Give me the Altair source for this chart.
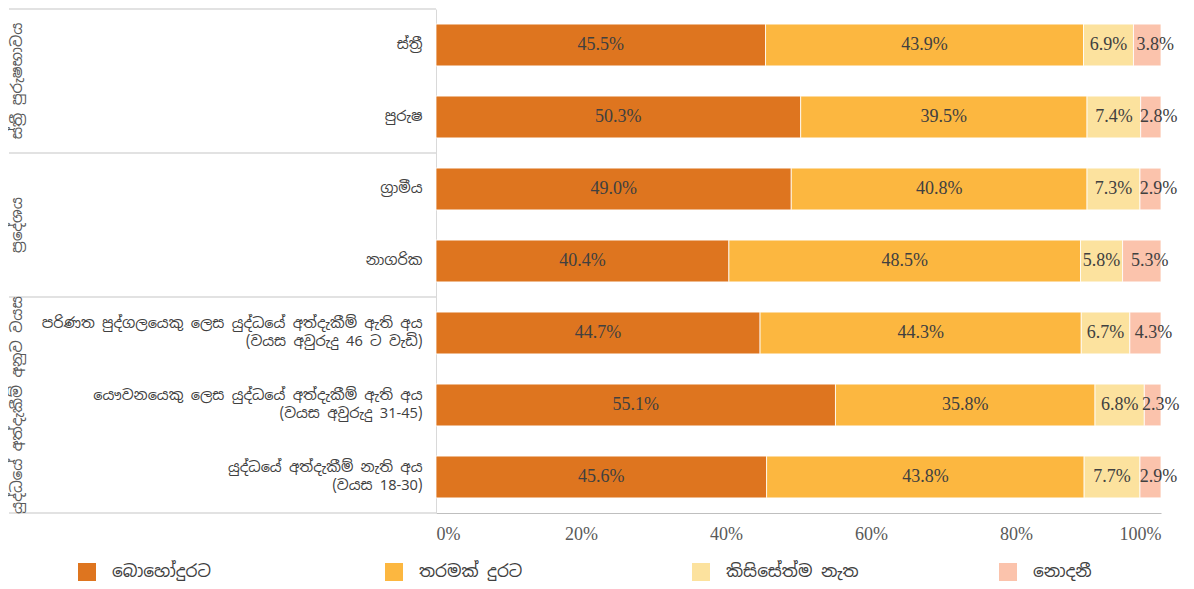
import altair as alt
import pandas as pd

categories = [
    "ස්ත්‍රී",
    "පුරුෂ",
    "ග්‍රාමීය",
    "නාගරික",
    "පරිණත පුද්ගලයෙකු ලෙස යුද්ධයේ අත්දැකීම් ඇති අය|(වයස අවුරුදු 46 ට වැඩි)",
    "යෞවනයෙකු ලෙස යුද්ධයේ අත්දැකීම් ඇති අය|(වයස අවුරුදු 31-45)",
    "යුද්ධයේ අත්දැකීම් නැති අය|(වයස 18-30)",
]
series = ["බොහෝදුරට", "තරමක් දුරට", "කිසිසේත්ම නැත", "නොදනී"]
very = [45.5, 50.3, 49.0, 40.4, 44.7, 55.1, 45.6]
somewhat = [43.9, 39.5, 40.8, 48.5, 44.3, 35.8, 43.8]
not_at_all = [6.9, 7.4, 7.3, 5.8, 6.7, 6.8, 7.7]
dont_know = [3.8, 2.8, 2.9, 5.3, 4.3, 2.3, 2.9]
series_values = [very, somewhat, not_at_all, dont_know]
colors = ["#DE751F", "#FCB740", "#FCE29E", "#FBC3AC"]

groups = ["ස්ත්‍රී පුරුෂභාවය", "ප්‍රදේශය", "යුද්ධයේ අත්දැකීම් අනුව වයස"]
group_sizes = [2, 2, 3]

rows = []
for i, c in enumerate(categories):
    for j, s in enumerate(series):
        rows.append({"cat": c, "series": s, "order": j, "value": series_values[j][i]})
df = pd.DataFrame(rows)

gstart = []
acc = 0
for n in group_sizes:
    gstart.append(acc)
    acc += n
gdf = pd.DataFrame({"group": groups, "start": gstart,
                    "end": [s + n for s, n in zip(gstart, group_sizes)]})
bdf = pd.DataFrame({"b": gstart + [acc]})
n_rows = len(categories)
last_idx = len(series) - 1

SIN = "Noto Sans Sinhala"
SERIF = "Liberation Serif"

base = alt.Chart(df).transform_window(
    cum="sum(value)", sort=[alt.SortField("order")], groupby=["cat"], frame=[None, 0]
).transform_joinaggregate(
    total="sum(value)", groupby=["cat"]
).transform_calculate(
    x0="(datum.cum - datum.value) / datum.total",
    x1="datum.cum / datum.total",
    xm="(datum.cum - datum.value / 2) / datum.total",
    lab="format(datum.value, '.1f') + '%'",
)

yscale = alt.Scale(domain=categories, paddingInner=0, paddingOuter=0)
yaxis = alt.Axis(title=None, labelExpr="split(datum.label, '|')",
                 labelFont=SIN, labelFontSize=14.6, labelColor="#404040",
                 labelLineHeight=18, labelPadding=14, labelLimit=500,
                 labelOffset={"condition": {"test": "indexof(datum.value, '|') >= 0", "value": -9},
                              "value": 0},
                 ticks=False, domainColor="#D9D9D9", labelAlign="right")

bars = base.mark_bar(height=alt.RelativeBandSize(0.58), stroke="white", strokeWidth=0.8).encode(
    y=alt.Y("cat:N", scale=yscale, sort=categories, axis=yaxis),
    x=alt.X("x0:Q", scale=alt.Scale(domain=[0, 1], nice=False),
            axis=alt.Axis(title=None, format=".0%", values=[0, 0.2, 0.4, 0.6, 0.8, 1.0],
                          grid=False, ticks=False, domainColor="#BFBFBF",
                          labelFont=SERIF, labelFontSize=18, labelColor="#595959",
                          labelPadding=12)),
    x2="x1:Q",
    color=alt.Color("series:N", scale=alt.Scale(domain=series, range=colors), sort=series,
                    legend=alt.Legend(title=None, orient="none", legendX=-358, legendY=554,
                                      direction="horizontal", columns=4,
                                      symbolType="square", symbolSize=324,
                                      symbolStrokeWidth=0, labelFont=SIN,
                                      labelFontSize=17, labelColor="#404040",
                                      labelOffset=16, columnPadding=140,
                                      gridAlign="all", labelLimit=300)),
    order=alt.Order("order:Q"),
)

text_enc = dict(
    y=alt.Y("cat:N", scale=yscale, sort=categories, axis=yaxis),
    x=alt.X("xm:Q"),
    text="lab:N",
)
texts = base.transform_filter(f"datum.order < {last_idx}").mark_text(
    font=SERIF, fontSize=18, color="#404040").encode(**text_enc)
texts_last = base.transform_filter(f"datum.order == {last_idx}").mark_text(
    font=SERIF, fontSize=18, color="#404040", dx=8).encode(**text_enc)

gy = alt.Scale(domain=[0, n_rows], reverse=True, nice=False)
rules = alt.Chart(bdf).mark_rule(color="#D9D9D9", strokeWidth=1.5).encode(
    y=alt.Y("b:Q", scale=gy, axis=None),
    x=alt.value(-427), x2=alt.value(0),
)
glabels = alt.Chart(gdf).transform_calculate(
    mid="(datum.start + datum.end) / 2"
).mark_text(angle=270, align="center", baseline="middle", font=SIN,
            fontSize=15, color="#595959").encode(
    y=alt.Y("mid:Q", scale=gy, axis=None),
    x=alt.value(-419),
    text="group:N",
)

chart = alt.layer(
    alt.layer(bars, texts, texts_last),
    alt.layer(rules, glabels),
).resolve_scale(y="independent").properties(
    width=725, height=504, padding=0
).configure_view(stroke=None)

chart.save("out.html", embed_options={"renderer": "svg", "actions": False})
